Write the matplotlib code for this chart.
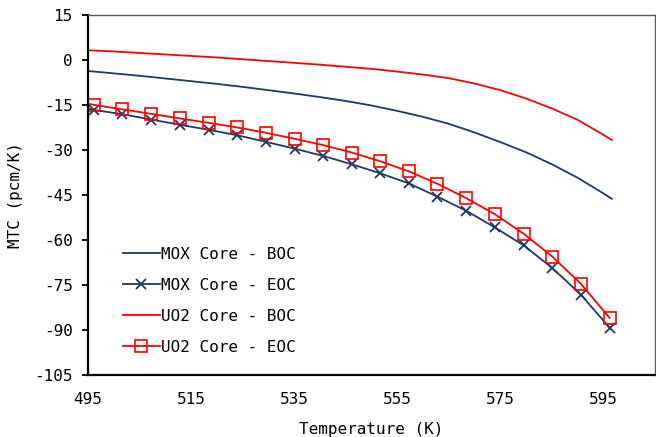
import matplotlib.pyplot as plt

plt.rcParams['font.family'] = ['DejaVu Sans Mono', 'DejaVu Sans']
plt.rcParams['axes.unicode_minus'] = False

# temperatures (K)
boc_temp = [495, 500, 505, 510, 515, 520, 525, 530, 535, 540, 545,
            550, 555, 560, 565, 570, 575, 580, 585, 590, 595, 596.6]
eoc_temp = [495, 496.2, 501.7, 507.3, 512.8, 518.4, 523.9, 529.5, 535.1, 540.6,
            546.2, 551.7, 557.3, 562.8, 568.4, 573.9, 579.5, 585.1, 590.6, 596.2]

# MTC values (pcm/K)
mox_boc = [-3.7, -4.5, -5.3, -6.2, -7.1, -8.0, -9.0, -10.1, -11.2, -12.4, -13.7,
           -15.2, -17.0, -19.0, -21.3, -24.2, -27.4, -30.8, -34.8, -39.3, -44.5, -46.3]
uo2_boc = [3.2, 2.8, 2.3, 1.8, 1.3, 0.8, 0.2, -0.4, -1.0, -1.6, -2.3,
           -3.0, -3.9, -4.9, -6.1, -7.9, -10.1, -12.9, -16.2, -20.0, -25.0, -26.7]
mox_eoc = [-16.3, -16.7, -18.1, -19.9, -21.6, -23.3, -25.1, -27.3, -29.6, -32.0, -34.8,
           -37.8, -41.2, -45.6, -50.3, -55.8, -61.8, -69.4, -78.2, -89.3]
uo2_eoc = [-14.6, -15.0, -16.5, -18.0, -19.5, -21.0, -22.5, -24.3, -26.3, -28.4, -30.9,
           -33.8, -37.2, -41.3, -46.1, -51.4, -57.9, -65.6, -74.6, -86.0]

navy = '#1f3864'
red = '#ff0000'

fig = plt.figure(figsize=(6.56, 4.37), dpi=100)
ax = fig.add_axes([0.134, 0.142, 0.8645, 0.824])

ax.plot(boc_temp, mox_boc, color=navy, lw=1.3, label='MOX Core - BOC')
ax.plot(eoc_temp, mox_eoc, color=navy, lw=1.3, marker='x', ms=7, mew=1.3,
        markevery=slice(1, None), label='MOX Core - EOC')
ax.plot(boc_temp, uo2_boc, color=red, lw=1.3, label='UO2 Core - BOC')
ax.plot(eoc_temp, uo2_eoc, color=red, lw=1.3, marker='s', ms=8, mew=1.2,
        mfc='none', markevery=slice(1, None), label='UO2 Core - EOC')

ax.set_xlim(495, 605)
ax.set_ylim(-105, 15)
ax.set_xticks([495, 515, 535, 555, 575, 595])
ax.set_yticks(range(-105, 16, 15))
ax.tick_params(axis='x', length=0, pad=12, labelsize=11.5)
ax.tick_params(axis='y', length=4, width=1.3, pad=7, labelsize=11.5)

for s in ['top', 'right']:
    ax.spines[s].set_color('#595959')
    ax.spines[s].set_linewidth(1)
for s in ['left', 'bottom']:
    ax.spines[s].set_color('black')
    ax.spines[s].set_linewidth(1.6)

ax.set_xlabel('Temperature (K)', fontsize=11.5, labelpad=11)
ax.set_ylabel('MTC (pcm/K)', fontsize=11.5, labelpad=8)

ax.legend(loc='upper left', bbox_to_anchor=(0.062, 0.356), frameon=False,
          fontsize=11.5, handlelength=2.3, handletextpad=0.05,
          labelspacing=1.0, borderpad=0, borderaxespad=0)

fig.savefig('out.png', dpi=100)
